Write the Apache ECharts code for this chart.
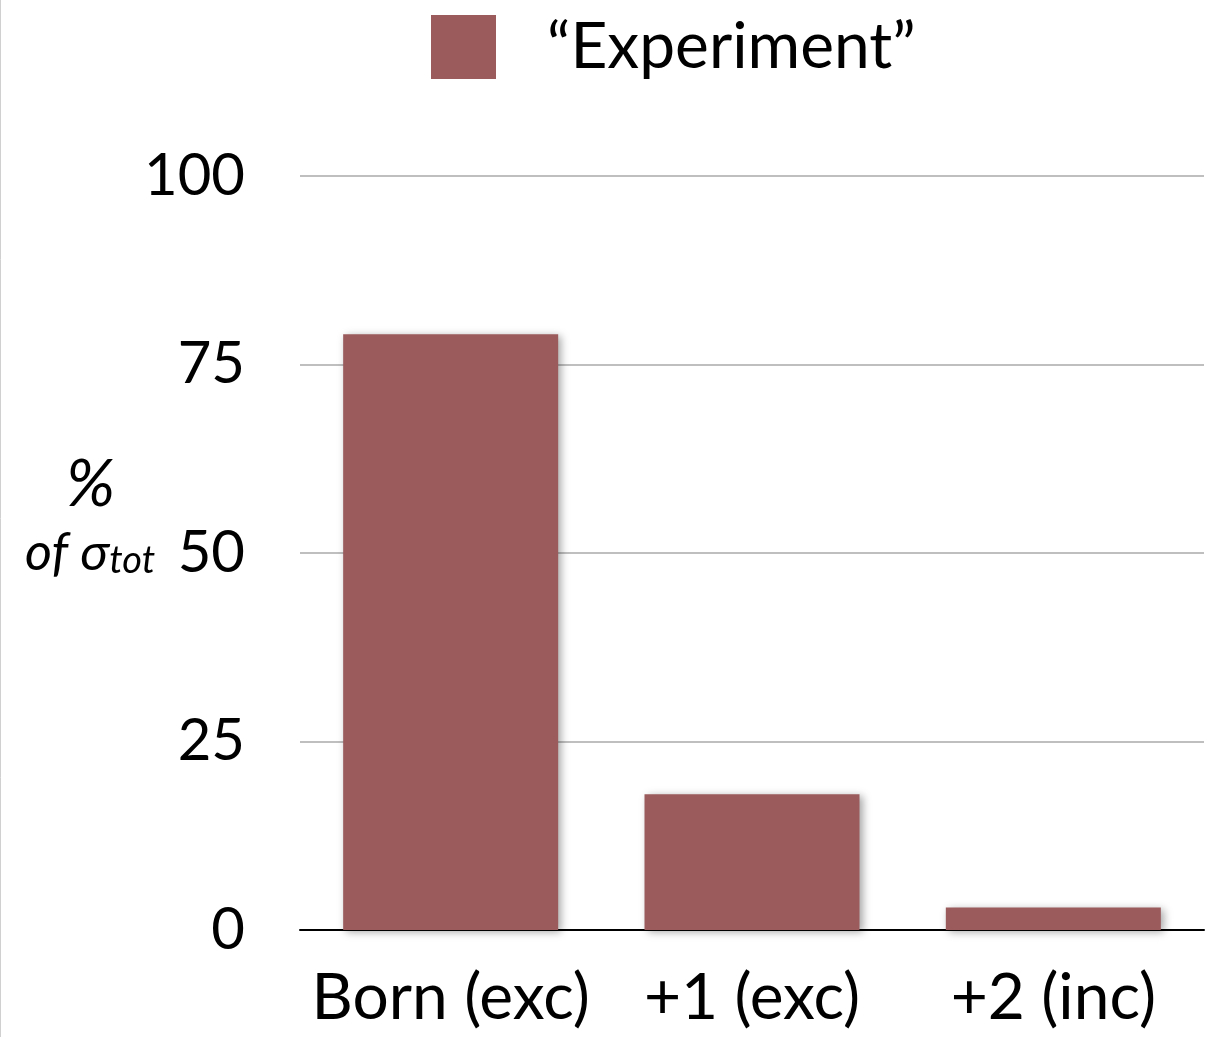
<!DOCTYPE html>
<html>
<head>
<meta charset="utf-8">
<script src="https://cdn.jsdelivr.net/npm/echarts@6/dist/echarts.min.js"></script>
<style>
html,body{margin:0;padding:0;background:#fff;}
#chart{width:1216px;height:1037px;}
</style>
</head>
<body>
<div id="chart"></div>
<script>
var categories = ['Born (exc)', '+1 (exc)', '+2 (inc)'];
var experimentValues = [79, 18, 3];
var seriesName = '\u201cExperiment\u201d';
var yTicks = { min: 0, max: 100, interval: 25 };

var FONT = 'Lato, "Open Sans", sans-serif';
var BAR = '#9b5b5d';

var chart = echarts.init(document.getElementById('chart'));
chart.setOption({
  backgroundColor: '#fff',
  animation: false,
  legend: {
    data: [seriesName],
    left: 426, top: 10,
    itemWidth: 65, itemHeight: 64,
    icon: 'rect',
    textStyle: { fontFamily: FONT, fontSize: 64, color: '#000', padding: [0, 0, 0, 46] }
  },
  grid: { left: 300, right: 12, top: 176, bottom: 107, containLabel: false },
  xAxis: {
    type: 'category',
    data: categories,
    axisLine: { lineStyle: { color: '#000', width: 2 } },
    axisTick: { show: false },
    axisLabel: { fontFamily: FONT, fontSize: 64, color: '#000', margin: 36, interval: 0 }
  },
  yAxis: {
    type: 'value',
    min: yTicks.min, max: yTicks.max, interval: yTicks.interval,
    axisLine: { show: false },
    axisTick: { show: false },
    splitLine: { lineStyle: { color: '#aaaaaa', width: 1.5 } },
    axisLabel: { fontFamily: FONT, fontSize: 58, color: '#000', margin: 55 }
  },
  series: [{
    name: seriesName,
    type: 'bar',
    data: experimentValues,
    barWidth: 215,
    itemStyle: {
      color: BAR,
      shadowColor: 'rgba(0,0,0,0.35)',
      shadowBlur: 8,
      shadowOffsetX: 3,
      shadowOffsetY: 2
    }
  }],
  graphic: [
    { type: 'line', shape: { x1: 0.5, y1: 0, x2: 0.5, y2: 1037 }, style: { stroke: '#d0d0d0', lineWidth: 1 } },
    {
      type: 'text', left: 66, top: 452,
      style: { text: '%', font: 'italic 66px ' + FONT, fill: '#000' }
    },
    {
      type: 'text', left: 25, top: 527,
      style: {
        text: '{a|of \u03c3}{b|tot}',
        rich: {
          a: { fontFamily: FONT, fontStyle: 'italic', fontSize: 52, color: '#000' },
          b: { fontFamily: FONT, fontStyle: 'italic', fontSize: 38, color: '#000', padding: [16, 0, 0, 0] }
        }
      }
    }
  ]
});
</script>
</body>
</html>
